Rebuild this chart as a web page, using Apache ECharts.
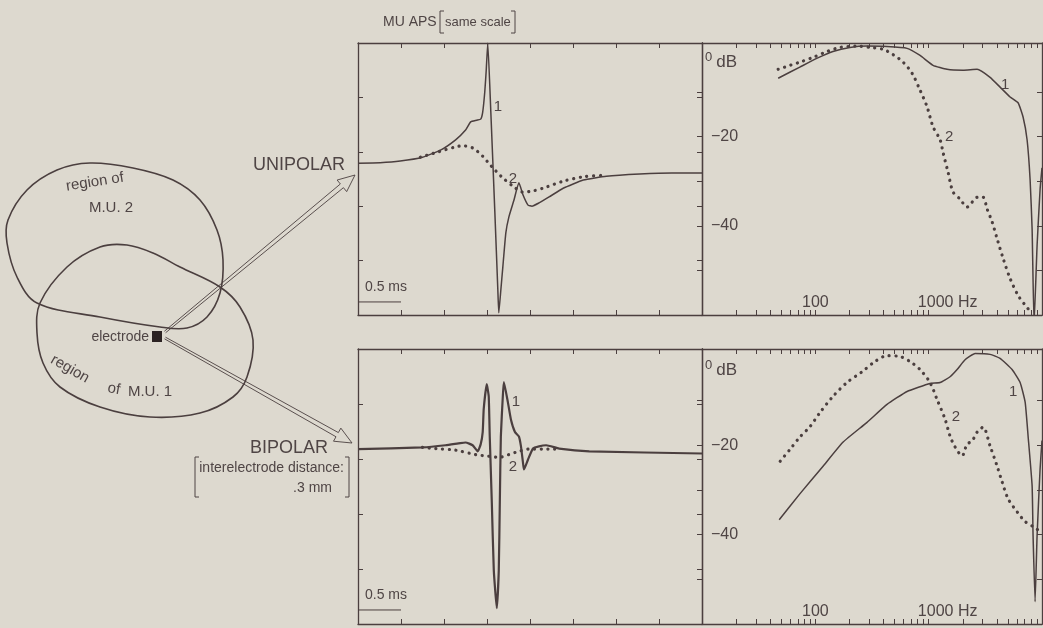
<!DOCTYPE html>
<html>
<head>
<meta charset="utf-8">
<script src="https://cdn.jsdelivr.net/npm/echarts@6/dist/echarts.min.js"></script>
<style>
  html, body { margin: 0; padding: 0; background: #ddd9cf; }
  #chart { width: 1043px; height: 628px; }
</style>
</head>
<body>
<div id="chart"></div>
<script>
// ---- Motor unit action potentials (time in ms, amplitude in screen divisions) ----
// Unipolar recording, MU 1 (solid)
const uniWaveT1 = [0, 0.257, 0.491, 0.749, 0.959, 1.135, 1.251, 1.310, 1.380, 1.427, 1.450, 1.474, 1.491, 1.509,
  1.544, 1.591, 1.626, 1.637, 1.661, 1.684, 1.719, 1.754, 1.813, 1.871, 1.918, 1.977, 2.023, 2.105, 2.222,
  2.386, 2.620, 2.889, 3.275, 3.649, 4.0];
const uniWaveV1 = [-0.21, -0.20, -0.17, -0.10, 0.03, 0.22, 0.40, 0.55, 0.58, 0.60, 0.73, 1.10, 1.50, 2.0,
  0.75, -1.10, -2.54, -2.96, -2.54, -2.12, -1.49, -1.20, -0.89, -0.57, -0.79, -0.98, -1.00, -0.94, -0.83,
  -0.67, -0.52, -0.45, -0.41, -0.39, -0.39];
// Unipolar recording, MU 2 (dotted)
const uniWaveT2 = [0.725, 0.936, 1.135, 1.216, 1.333, 1.450, 1.520, 1.602, 1.684, 1.801, 1.918, 2.035, 2.187,
  2.386, 2.620, 2.889];
const uniWaveV2 = [-0.10, 0.00, 0.09, 0.11, 0.07, -0.08, -0.21, -0.35, -0.48, -0.63, -0.74, -0.72, -0.65,
  -0.54, -0.46, -0.43];
// Bipolar recording, MU 1 (solid)
const biWaveT1 = [0, 0.749, 1.018, 1.190, 1.251, 1.333, 1.392, 1.427, 1.450, 1.462, 1.497, 1.520, 1.532, 1.556,
  1.579, 1.614, 1.637, 1.649, 1.661, 1.684, 1.696, 1.743, 1.778, 1.825, 1.871, 1.895, 1.918, 1.930, 1.977,
  2.035, 2.105, 2.187, 2.339, 2.690, 4.0];
const biWaveV1 = [0.18, 0.21, 0.25, 0.29, 0.30, 0.25, 0.14, 0.27, 0.49, 0.91, 1.36, 1.14, 0.41, -0.79,
  -2.02, -2.71, -2.02, -0.79, 0.41, 1.14, 1.40, 1.03, 0.72, 0.49, 0.41, 0.23, -0.06, -0.19, -0.01,
  0.19, 0.23, 0.25, 0.19, 0.14, 0.10];
// Bipolar recording, MU 2 (dotted)
const biWaveT2 = [0.75, 0.901, 1.135, 1.368, 1.520, 1.637, 1.754, 1.871, 1.988, 2.152, 2.304];
const biWaveV2 = [0.21, 0.19, 0.16, 0.08, 0.05, 0.03, 0.08, 0.14, 0.18, 0.18, 0.18];

// ---- Amplitude spectra (frequency in Hz, level in dB) ----
const uniSpecF1 = [47, 73, 104, 143, 202, 286, 429, 645, 840, 1093, 1453, 2012, 2675, 3483, 4267, 5228, 6150,
  6808, 7386, 7852, 8180, 8510, 9050, 9620, 10000];
const uniSpecDb1 = [-6.9, -4.4, -2.4, -0.9, 0, 0.3, 0.2, -0.2, -1.8, -4.0, -4.9, -5.1, -4.9, -6.7, -8.9, -11.1,
  -12.4, -15.6, -20.7, -29.6, -40.7, -62, -44.4, -31.8, -27];
const uniSpecF2 = [47, 60, 73, 96, 127, 165, 233, 304, 396, 485, 595, 714, 840, 968, 1093, 1261, 1341, 1483,
  1641, 1892, 2181, 2415, 2675, 3020, 3275, 3628, 4018, 4537, 5228, 6150, 7100, 7852];
const uniSpecDb2 = [-4.9, -4.0, -3.3, -2.2, -0.9, 0, 0.3, 0, -0.4, -1.6, -3.3, -5.8, -9.6, -13.3, -17.8,
  -20.7, -23.6, -28.0, -32.4, -34.0, -35.8, -34.7, -33.6, -33.6, -36.2, -39.1, -42.9, -47.3, -51.8, -55.6,
  -57.8, -59.1];
const biSpecF1 = [48, 73, 117, 176, 286, 429, 645, 1028, 1261, 1545, 1782, 2095, 2570, 3483, 4267, 5445, 6412,
  7100, 7540, 8180, 8340, 8690, 9050, 9620, 10000];
const biSpecDb1 = [-36.7, -30.9, -24.7, -19.3, -14.9, -10.9, -8.0, -6.2, -6.0, -4.7, -3.1, -0.9, 0.5, 0.3,
  -0.6, -3.1, -6.0, -10.4, -18.0, -29.1, -40.2, -55, -40.2, -25.3, -19];
const biSpecF2 = [49, 60, 73, 90, 110, 143, 190, 258, 336, 429, 560, 685, 840, 1028, 1186, 1396, 1545, 1710,
  1972, 2181, 2415, 2675, 3020, 3483, 4018, 4446, 5024, 6026, 7100, 8340, 9620];
const biSpecDb2 = [-23.6, -20.9, -18.2, -15.8, -12.7, -9.1, -6.0, -3.6, -1.3, 0, -0.2, -1.3, -3.1, -6.0, -9.8,
  -14.2, -18.0, -20.4, -22.4, -19.8, -19.1, -17.1, -16.0, -20.2, -24.7, -28.2, -32.0, -34.9, -37.1, -38.2,
  -39.3];

// ---- Ticks and tick labels ----
const freqMinorTicks = [20, 30, 40, 50, 60, 70, 80, 90, 100, 200, 300, 400, 500, 600, 700, 800, 900, 1000,
  2000, 3000, 4000, 5000, 6000, 7000, 8000, 9000];
const freqLabelValues = [100, 1000];
const freqLabelTexts = ['100', '1000 Hz'];
const dbTickValues = [-50, -40, -30, -20, -10];
const dbLabelValues = [0, -20, -40];
const dbLabelTexts = ['0', '−20', '−40'];
const dbUnit = 'dB';
const scaleBarT = [0, 0.5];
const scaleBarText = '0.5 ms';
const curveNames = ['1', '2'];

const INK = '#4b3f3f';
const TEXT = '#4f4545';
const FONT = '"Liberation Sans", Arial, sans-serif';

const zip = (a, b) => a.map((v, i) => [v, b[i]]);

const axisLine = { show: true, onZero: false, lineStyle: { color: INK, width: 1.3 } };

function waveAxesX(gridIndex) {
  const base = {
    gridIndex, type: 'value', min: 0, max: 4, interval: 0.5, axisLine,
    axisTick: { show: true, inside: true, length: 5, lineStyle: { color: INK, width: 1 } },
    axisLabel: { show: false }, splitLine: { show: false }
  };
  return [Object.assign({ position: 'bottom' }, base), Object.assign({ position: 'top' }, base)];
}
function waveAxesY(gridIndex) {
  const base = {
    gridIndex, type: 'value', min: -3, max: 2, interval: 1, axisLine,
    axisTick: { show: true, inside: true, length: 5, lineStyle: { color: INK, width: 1 } },
    axisLabel: { show: false }, splitLine: { show: false }
  };
  return [Object.assign({ position: 'left' }, base), Object.assign({ position: 'right' }, base)];
}
function specAxesX(gridIndex) {
  const base = {
    gridIndex, type: 'log', logBase: 10, min: 10, max: 10000, axisLine,
    axisTick: { show: true, inside: true, length: 5, customValues: freqMinorTicks, lineStyle: { color: INK, width: 1 } },
    splitLine: { show: false }
  };
  const bottom = Object.assign({ position: 'bottom' }, base, {
    axisLabel: {
      show: true, inside: true, margin: 4, customValues: freqLabelValues,
      color: TEXT, fontFamily: FONT, fontSize: 16,
      formatter: (v) => {
        const i = freqLabelValues.indexOf(Math.round(v));
        return i === 1 ? '{h|' + freqLabelTexts[i] + '}' : freqLabelTexts[i];
      },
      rich: { h: { color: TEXT, fontFamily: FONT, fontSize: 16, padding: [0, 0, 0, 38] } }
    }
  });
  const top = Object.assign({ position: 'top' }, base, { axisLabel: { show: false } });
  return [bottom, top];
}
function specAxesY(gridIndex, max) {
  const left = {
    gridIndex, type: 'value', min: -60, max, position: 'left', axisLine,
    axisTick: { show: true, inside: false, length: 5, customValues: dbTickValues, lineStyle: { color: INK, width: 1 } },
    axisLabel: {
      show: true, inside: true, margin: 3, customValues: dbLabelValues,
      color: TEXT, fontFamily: FONT, fontSize: 15,
      formatter: (v) => {
        const i = dbLabelValues.indexOf(Math.round(v));
        return i === 0 ? '{z|' + dbLabelTexts[0] + '}{u|' + dbUnit + '}' : '{n|' + dbLabelTexts[i] + '}';
      },
      rich: {
        z: { color: TEXT, fontFamily: FONT, fontSize: 13, padding: [20, 4, 0, 0] },
        u: { color: TEXT, fontFamily: FONT, fontSize: 17, padding: [30, 0, 0, 0] },
        n: { color: TEXT, fontFamily: FONT, fontSize: 16, padding: [0, 0, 0, 6] }
      }
    },
    splitLine: { show: false }
  };
  const right = {
    gridIndex, type: 'value', min: -60, max, position: 'right', axisLine,
    axisTick: { show: true, inside: true, length: 5, customValues: dbTickValues, lineStyle: { color: INK, width: 1 } },
    axisLabel: { show: false }, splitLine: { show: false }
  };
  return [left, right];
}

function curveLabels(points) {
  return {
    symbol: 'circle', symbolSize: 0, silent: true,
    label: { show: true, position: 'inside', color: TEXT, fontFamily: FONT, fontSize: 15, formatter: '{b}' },
    data: points.map((p) => ({ name: curveNames[p[2]], coord: [p[0], p[1]] }))
  };
}
function solid(xi, yi, data, width, labels) {
  return {
    type: 'line', xAxisIndex: xi, yAxisIndex: yi, data, showSymbol: false, smooth: 0.15,
    lineStyle: { color: INK, width }, z: 3, markPoint: labels
  };
}
function dotted(xi, yi, data, labels) {
  return {
    type: 'line', xAxisIndex: xi, yAxisIndex: yi, data, showSymbol: false, smooth: 0.3,
    lineStyle: { color: INK, width: 3.2, type: [0.1, 6.6], cap: 'round' }, z: 2, markPoint: labels
  };
}
function scaleBar(xi, yi, level) {
  return {
    type: 'line', xAxisIndex: xi, yAxisIndex: yi, showSymbol: false,
    data: scaleBarT.map(t => [t, level]),
    lineStyle: { color: INK, width: 1 },
    markPoint: {
      symbol: 'circle', symbolSize: 0, silent: true,
      label: { show: true, position: 'insideBottomLeft', color: TEXT, fontFamily: FONT, fontSize: 14, formatter: scaleBarText, offset: [2, -3] },
      data: [{ coord: [scaleBarT[0], level] }]
    }
  };
}

// ---- Left-hand sketch: motor unit territories, electrode and arrows ----
const mu2Outline = [[37,303],[100,317],[160,327],[187,328],[207,317],[220,293],[223,260],[217,230],[200,200],
  [173,180],[133,168],[90,163],[57,170],[27,190],[8,220],[7,243],[17,277]];
const mu1Outline = [[40,303],[67,267],[100,247],[127,245],[153,253],[180,267],[220,287],[240,307],[253,340],
  [247,377],[233,397],[200,413],[150,417],[100,407],[60,387],[43,363],[37,333]];

function hollowArrow(x0, y0, x1, y1) {
  const dx = x1 - x0, dy = y1 - y0, len = Math.hypot(dx, dy);
  const ux = dx / len, uy = dy / len, nx = -uy, ny = ux;
  const w = 2.4, hw = 7.5, hl = 17;
  const bx = x1 - ux * hl, by = y1 - uy * hl;
  const pt = (x, y, s) => [x + nx * s, y + ny * s];
  return {
    type: 'polyline',
    shape: { points: [pt(x0, y0, w * 0.4), pt(bx, by, w), pt(bx, by, hw), [x1, y1], pt(bx, by, -hw), pt(bx, by, -w), pt(x0, y0, -w * 0.4)] },
    style: { stroke: INK, lineWidth: 0.9, fill: null }
  };
}
function txt(text, x, y, size, align, rot) {
  return {
    type: 'text', x, y, rotation: (rot || 0) * Math.PI / 180,
    style: { text, fill: TEXT, fontFamily: FONT, fontSize: size, align: align || 'left', verticalAlign: 'middle' }
  };
}
function bracket(x, y0, y1, dir) {
  return {
    type: 'polyline',
    shape: { points: [[x + 4 * dir, y0], [x, y0], [x, y1], [x + 4 * dir, y1]] },
    style: { stroke: TEXT, lineWidth: 1, fill: null }
  };
}

const graphics = [
  { type: 'polygon', shape: { points: mu2Outline, smooth: 0.35 }, style: { fill: null, stroke: INK, lineWidth: 1.6 } },
  { type: 'polygon', shape: { points: mu1Outline, smooth: 0.35 }, style: { fill: null, stroke: INK, lineWidth: 1.6 } },
  { type: 'rect', shape: { x: 152, y: 331, width: 10, height: 11 }, style: { fill: '#2b2222' } },
  hollowArrow(165, 332, 355, 175),
  hollowArrow(165, 338, 352, 443),
  txt('region of', 95, 182, 15, 'center', 9),
  txt('M.U. 2', 111, 208, 15, 'center'),
  txt('electrode', 149, 337, 14, 'right'),
  txt('region', 70, 369, 15, 'center', -30),
  txt('of', 114, 389, 15, 'center', -10),
  txt('M.U. 1', 150, 392, 15, 'center'),
  txt('UNIPOLAR', 345, 165, 18, 'right'),
  txt('BIPOLAR', 328, 448, 18, 'right'),
  txt('interelectrode distance:', 344, 468, 14, 'right'),
  txt('.3 mm', 332, 488, 14, 'right'),
  bracket(195, 457, 497, 1),
  bracket(349, 457, 497, -1),
  txt('MU APS', 383, 22, 14, 'left'),
  bracket(440, 11, 33, 1),
  txt('same scale', 445, 22, 13, 'left'),
  bracket(515, 11, 33, -1)
];

const chart = echarts.init(document.getElementById('chart'), null, { renderer: 'canvas' });
chart.setOption({
  animation: false,
  backgroundColor: '#ddd9cf',
  grid: [
    { left: 358, top: 43, width: 344, height: 272 },
    { left: 702, top: 43, width: 340, height: 272 },
    { left: 358, top: 349, width: 344, height: 275 },
    { left: 702, top: 349, width: 340, height: 275 }
  ],
  xAxis: [...waveAxesX(0), ...specAxesX(1), ...waveAxesX(2), ...specAxesX(3)],
  yAxis: [...waveAxesY(0), ...specAxesY(1, 1), ...waveAxesY(2), ...specAxesY(3, 1.5)],
  series: [
    solid(0, 0, zip(uniWaveT1, uniWaveV1), 1.5, curveLabels([[1.626, 0.82, 0]])),
    dotted(0, 0, zip(uniWaveT2, uniWaveV2), curveLabels([[1.80, -0.5, 1]])),
    scaleBar(0, 0, -2.76),
    solid(2, 2, zip(uniSpecF1, uniSpecDb1), 1.5, curveLabels([[4720, -8.4, 0]])),
    dotted(2, 2, zip(uniSpecF2, uniSpecDb2), curveLabels([[1520, -20, 1]])),
    solid(4, 4, zip(biWaveT1, biWaveV1), 2.2, curveLabels([[1.836, 1.03, 0]])),
    dotted(4, 4, zip(biWaveT2, biWaveV2), curveLabels([[1.801, -0.14, 1]])),
    scaleBar(4, 4, -2.745),
    solid(6, 6, zip(biSpecF1, biSpecDb1), 1.5, curveLabels([[5560, -8, 0]])),
    dotted(6, 6, zip(biSpecF2, biSpecDb2), curveLabels([[1740, -13.6, 1]]))
  ],
  graphic: graphics
});
</script>
</body>
</html>
